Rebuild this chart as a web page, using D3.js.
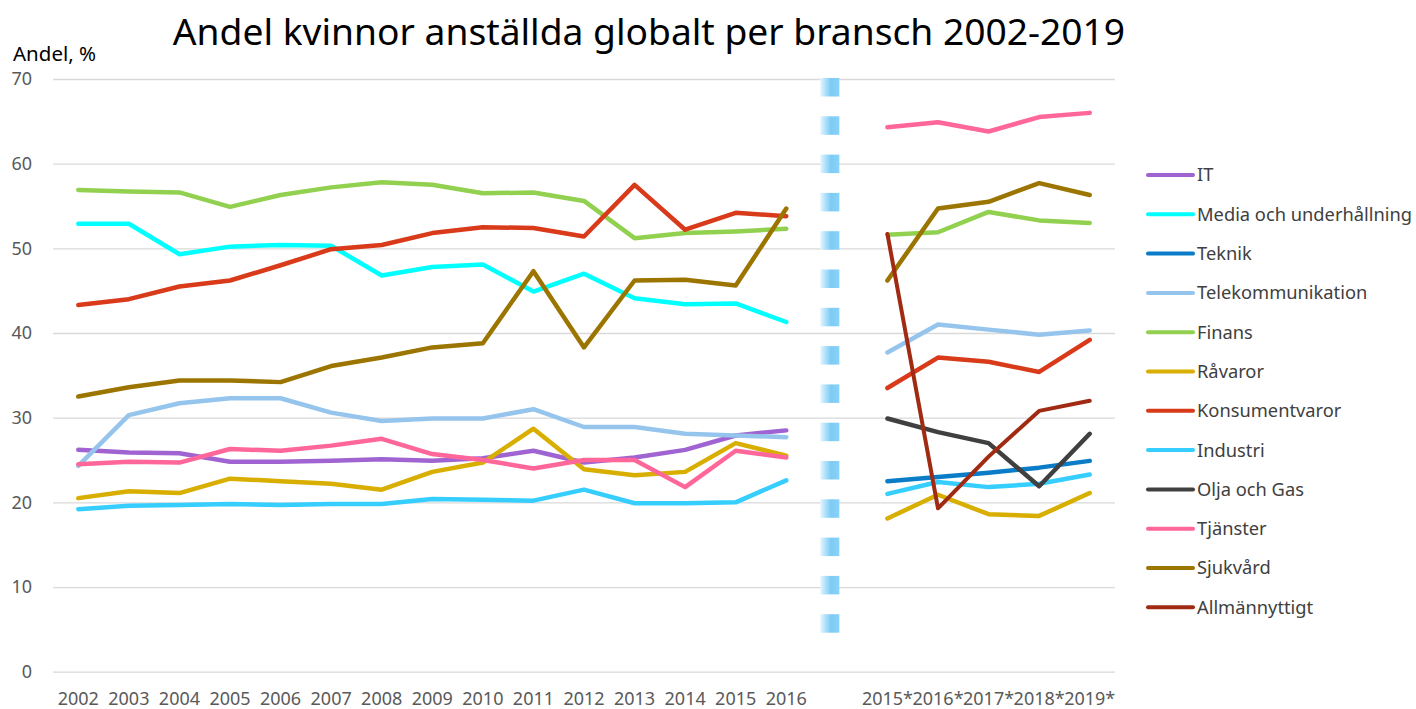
<!DOCTYPE html>
<html>
<head>
<meta charset="utf-8">
<script src="https://cdn.jsdelivr.net/npm/d3@7"></script>
<style>
  body { margin: 0; background: #fff; }
  svg { display: block; font-family: "Noto Sans", "Open Sans", sans-serif; }
</style>
</head>
<body>
<div id="chart"></div>
<script>
const categories = ["2002","2003","2004","2005","2006","2007","2008","2009","2010","2011","2012","2013","2014","2015","2016"," ","2015*","2016*","2017*","2018*","2019*"]
const yTicks = [0, 10, 20, 30, 40, 50, 60, 70]

const seriesNames = ["IT","Media och underhållning","Teknik","Telekommunikation","Finans","Råvaror","Konsumentvaror","Industri","Olja och Gas","Tjänster","Sjukvård","Allmännyttigt"]
const seriesColors = ["#a064d2","#00ffff","#0b7cc8","#95c5ec","#92d050","#d8ae00","#d83a1a","#35ceff","#404040","#ff6699","#9c7500","#a02a12"]

// 2002..2016, gap, 2015*..2019*
const it         = [26.2,25.9,25.8,24.8,24.8,24.9,25.1,24.9,25.2,26.1,24.7,25.3,26.2,27.9,28.5, null, null,null,null,null,null]
const media      = [52.9,52.9,49.3,50.2,50.4,50.3,46.8,47.8,48.1,44.9,47.0,44.1,43.4,43.5,41.3, null, null,null,null,null,null]
const teknik     = [null,null,null,null,null,null,null,null,null,null,null,null,null,null,null, null, 22.5,23.0,23.5,24.1,24.9]
const telekom    = [24.3,30.3,31.7,32.3,32.3,30.6,29.6,29.9,29.9,31.0,28.9,28.9,28.1,27.9,27.7, null, 37.7,41.0,40.4,39.8,40.3]
const finans     = [56.9,56.7,56.6,54.9,56.3,57.2,57.8,57.5,56.5,56.6,55.6,51.2,51.8,52.0,52.3, null, 51.6,51.9,54.3,53.3,53.0]
const ravaror    = [20.5,21.3,21.1,22.8,22.5,22.2,21.5,23.6,24.7,28.7,23.9,23.2,23.6,27.0,25.5, null, 18.1,20.9,18.6,18.4,21.1]
const konsument  = [43.3,44.0,45.5,46.2,48.0,49.9,50.4,51.8,52.5,52.4,51.4,57.5,52.2,54.2,53.8, null, 33.5,37.1,36.6,35.4,39.2]
const industri   = [19.2,19.6,19.7,19.8,19.7,19.8,19.8,20.4,20.3,20.2,21.5,19.9,19.9,20.0,22.6, null, 21.0,22.4,21.8,22.2,23.3]
const oljaGas    = [null,null,null,null,null,null,null,null,null,null,null,null,null,null,null, null, 29.9,28.3,27.0,21.9,28.1]
const tjanster   = [24.5,24.8,24.7,26.3,26.1,26.7,27.5,25.7,25.0,24.0,25.0,25.0,21.8,26.1,25.3, null, 64.3,64.9,63.8,65.5,66.0]
const sjukvard   = [32.5,33.6,34.4,34.4,34.2,36.1,37.1,38.3,38.8,47.3,38.3,46.2,46.3,45.6,54.7, null, 46.2,54.7,55.5,57.7,56.3]
const allmannytt = [null,null,null,null,null,null,null,null,null,null,null,null,null,null,null, null, 51.7,19.3,25.4,30.8,32.0]

const seriesValues = [it, media, teknik, telekom, finans, ravaror, konsument, industri, oljaGas, tjanster, sjukvard, allmannytt]

const width = 1416, height = 709
const plotLeft = 53, plotRight = 1115, plotTop = 79, plotBottom = 671.7

const svg = d3.select("#chart").append("svg")
   .attr("width", width)
   .attr("height", height)

const xScale = d3.scaleBand().domain(categories).range([plotLeft, plotRight]).padding(0)
const xc = d => xScale(d) + xScale.bandwidth() / 2
const yScale = d3.scaleLinear().domain([0, 70]).range([plotBottom, plotTop])

// title
svg.append("text")
   .attr("x", 649).attr("y", 45)
   .attr("text-anchor", "middle")
   .attr("font-size", 37.2)
   .attr("fill", "#000")
   .text("Andel kvinnor anställda globalt per bransch 2002-2019")

svg.append("text")
   .attr("x", 13).attr("y", 61)
   .attr("font-size", 20.5)
   .attr("fill", "#000")
   .text("Andel, %")

// y axis + gridlines
const yAxis = svg.append("g")
   .attr("transform", "translate(" + plotLeft + ",0)")
   .call(d3.axisLeft(yScale).tickValues(yTicks).tickSize(-(plotRight - plotLeft)).tickPadding(21))
yAxis.select(".domain").remove()
yAxis.selectAll("line").attr("stroke", "#d9d9d9").attr("stroke-width", 1.3)
yAxis.selectAll("text").attr("font-size", 18).attr("fill", "#595959").attr("font-family", "Noto Sans")

// x axis
const xAxis = svg.append("g")
   .attr("transform", "translate(0," + plotBottom + ")")
   .call(d3.axisBottom(xScale).tickSize(0).tickPadding(21))
xAxis.select(".domain").remove()
xAxis.selectAll("text").attr("font-size", 18).attr("fill", "#595959").attr("font-family", "Noto Sans")

// dashed separator between the two periods
const defs = svg.append("defs")
const grad = defs.append("linearGradient").attr("id", "sep").attr("x1", "0%").attr("x2", "100%")
grad.append("stop").attr("offset", "0%").attr("stop-color", "#e4f5fd")
grad.append("stop").attr("offset", "55%").attr("stop-color", "#7ccbf6")
grad.append("stop").attr("offset", "100%").attr("stop-color", "#8bd2f8")

const sepX = xc(" ") - 7
const sepH = 18.5, sepGap = 19.8
d3.range(plotTop - 1, 640, sepH + sepGap).forEach(y0 => {
   svg.append("rect")
      .attr("x", sepX - 9.5).attr("y", y0)
      .attr("width", 19).attr("height", Math.min(sepH, 640 - y0))
      .attr("fill", "url(#sep)")
})

// lines
const line = d3.line()
   .defined(d => d.v != null)
   .x(d => xc(d.c))
   .y(d => yScale(d.v))

seriesValues.forEach((vals, i) => {
   svg.append("path")
      .datum(vals.map((v, j) => ({ c: categories[j], v: v })))
      .attr("fill", "none")
      .attr("stroke", seriesColors[i])
      .attr("stroke-width", i == 11 ? 4 : 4.5)
      .attr("stroke-linejoin", "round")
      .attr("stroke-linecap", "round")
      .attr("d", line)
})

// legend
const legend = svg.append("g").attr("transform", "translate(1148,175)")
seriesNames.forEach((name, i) => {
   const g = legend.append("g").attr("transform", "translate(0," + (i * 39.3) + ")")
   g.append("line")
      .attr("x1", 0).attr("x2", 45)
      .attr("stroke", seriesColors[i])
      .attr("stroke-width", 4)
      .attr("stroke-linecap", "round")
   g.append("text")
      .attr("x", 49).attr("y", 0).attr("dy", "0.35em")
      .attr("font-size", 18.3)
      .attr("fill", "#404040")
      .text(name)
})
</script>
</body>
</html>
